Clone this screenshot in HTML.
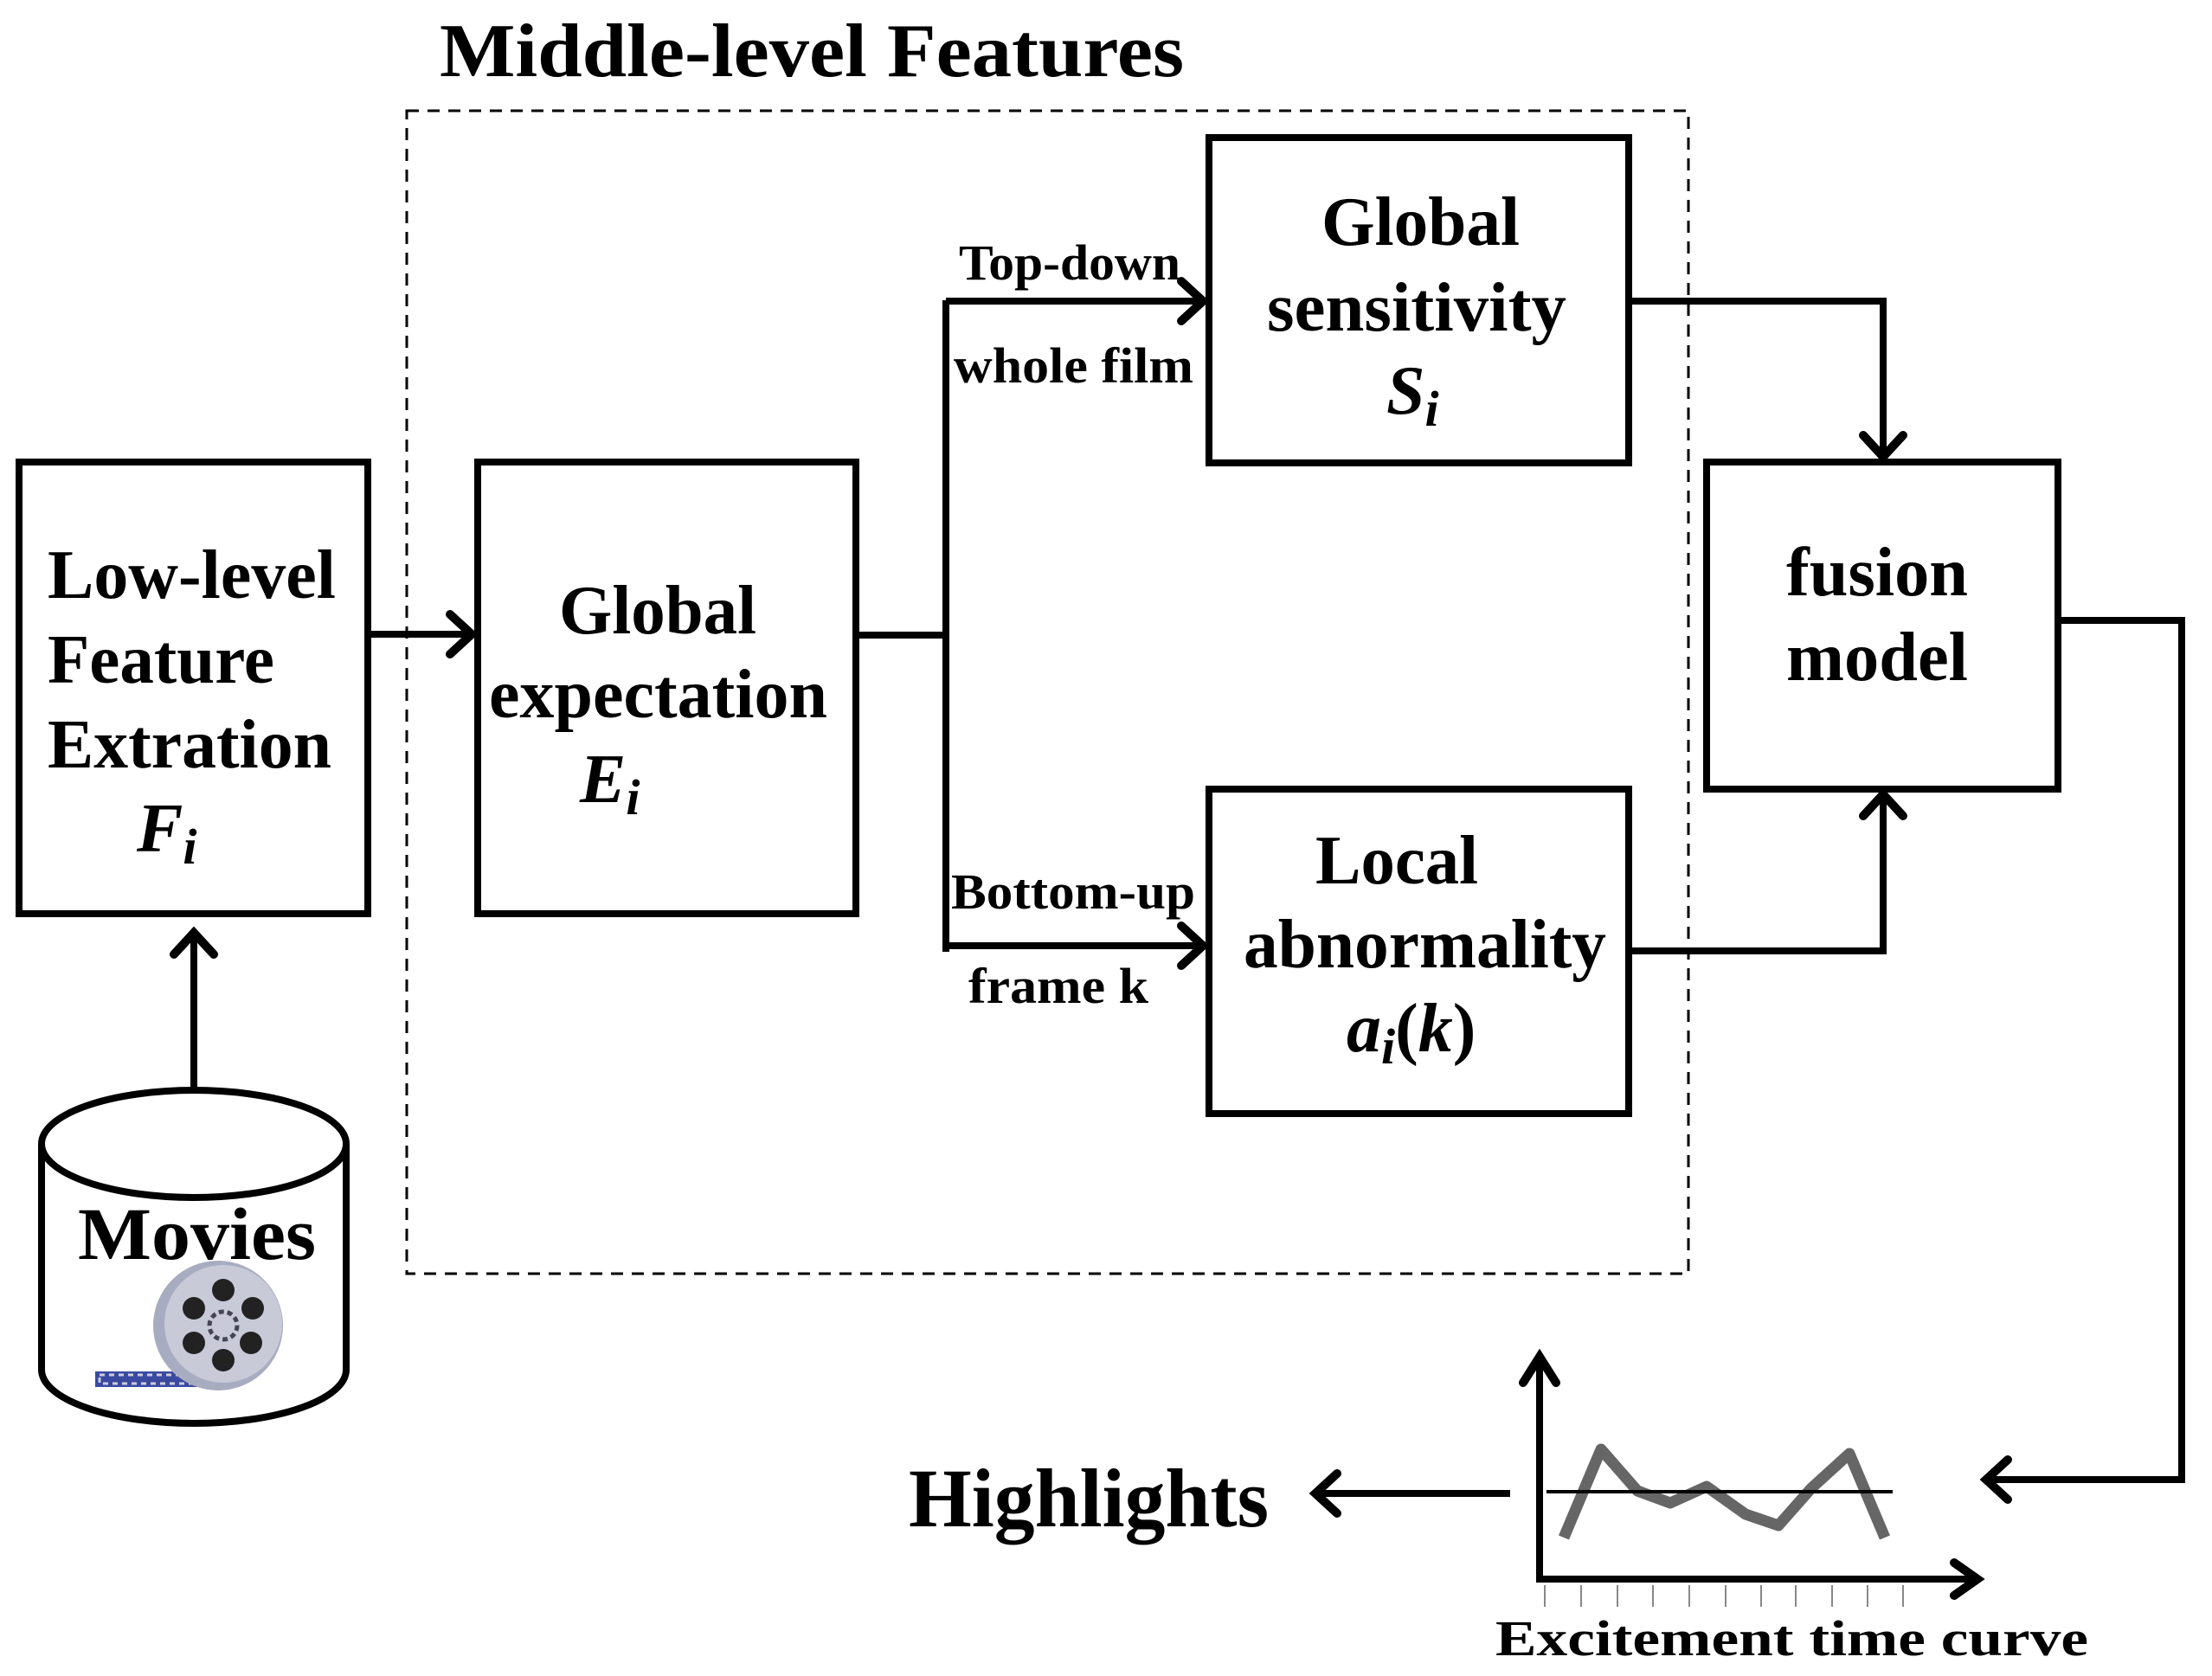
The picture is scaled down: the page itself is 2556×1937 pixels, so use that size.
<!DOCTYPE html>
<html><head><meta charset="utf-8"><style>
html,body{margin:0;padding:0;background:#fff;}
svg{display:block;}
text{font-family:"Liberation Serif",serif;font-weight:bold;fill:#000;}
.it{font-style:italic;}
</style></head><body>
<svg width="2556" height="1937" viewBox="0 0 2556 1937" xmlns="http://www.w3.org/2000/svg">
<g fill="none" stroke="#000" stroke-width="8" stroke-linejoin="miter">
<rect x="470" y="128" width="1481" height="1344" stroke-width="3" stroke-dasharray="14 10"/>
<rect x="22" y="534" width="403" height="522"/>
<rect x="552" y="534" width="437" height="522"/>
<rect x="1397" y="159" width="485" height="376"/>
<rect x="1397" y="912" width="485" height="375"/>
<rect x="1972" y="534" width="406" height="378"/>
<line x1="425" y1="733" x2="545" y2="733"/>
<polyline points="989,734 1093,734"/>
<line x1="1093" y1="347" x2="1093" y2="1100"/>
<line x1="1093" y1="348" x2="1390" y2="348"/>
<line x1="1093" y1="1093" x2="1390" y2="1093"/>
<polyline points="1882,348 2176,348 2176,528"/>
<polyline points="1882,1099 2176,1099 2176,918"/>
<polyline points="2378,717 2521,717 2521,1710 2295,1710"/>
<line x1="224" y1="1260" x2="224" y2="1078"/>
<line x1="1745" y1="1726" x2="1520" y2="1726"/>
<polyline points="1779,1568 1779,1825 2285,1825"/>
<path d="M48,1322 L48,1583 A176,62 0 0 0 400,1583 L400,1322" fill="#fff"/>
<ellipse cx="224" cy="1322" rx="176" ry="62" fill="#fff"/>
</g>
<g fill="none" stroke="#000" stroke-width="10" stroke-linecap="round" stroke-linejoin="miter">
<polyline points="520,710 545,733 520,756"/>
<polyline points="1365,325 1390,348 1365,371"/>
<polyline points="1365,1070 1390,1093 1365,1116"/>
<polyline points="2153,503 2176,528 2199,503"/>
<polyline points="2153,943 2176,918 2199,943"/>
<polyline points="2320,1687 2295,1710 2320,1733"/>
<polyline points="201,1103 224,1078 247,1103"/>
<polyline points="1545,1703 1520,1726 1545,1749"/>
<polyline points="1760,1598 1779,1568 1798,1598"/>
<polyline points="2258,1806 2285,1825 2258,1844"/>
</g>
<g stroke="#888" stroke-width="2">
<line x1="1785" y1="1832" x2="1785" y2="1857"/><line x1="1827" y1="1832" x2="1827" y2="1857"/><line x1="1869" y1="1832" x2="1869" y2="1857"/><line x1="1910" y1="1832" x2="1910" y2="1857"/><line x1="1952" y1="1832" x2="1952" y2="1857"/><line x1="1994" y1="1832" x2="1994" y2="1857"/><line x1="2035" y1="1832" x2="2035" y2="1857"/><line x1="2075" y1="1832" x2="2075" y2="1857"/><line x1="2117" y1="1832" x2="2117" y2="1857"/><line x1="2158" y1="1832" x2="2158" y2="1857"/><line x1="2199" y1="1832" x2="2199" y2="1857"/>
</g>
<polyline points="1807,1777 1850,1675 1892,1723 1930,1737 1972,1718 2017,1750 2055,1763 2093,1720 2137,1680 2178,1777" fill="none" stroke="#666" stroke-width="13" stroke-linejoin="round"/>
<line x1="1787" y1="1724" x2="2187" y2="1724" stroke="#000" stroke-width="4"/>
<rect x="110" y="1585" width="120" height="18" fill="#3a4aa0"/>
<rect x="115" y="1589" width="110" height="10" fill="none" stroke="#ccd" stroke-width="3" stroke-dasharray="6 5"/>
<circle cx="252" cy="1532" r="75" fill="#a8acc0"/>
<circle cx="258" cy="1530" r="68" fill="#c8cad8"/>
<g fill="#222">
<circle cx="258" cy="1491" r="13"/><circle cx="292" cy="1512" r="13"/><circle cx="290" cy="1552" r="13"/>
<circle cx="258" cy="1572" r="13"/><circle cx="224" cy="1552" r="13"/><circle cx="224" cy="1512" r="13"/>
</g>
<circle cx="258" cy="1532" r="16" fill="none" stroke="#445" stroke-width="5" stroke-dasharray="6 4"/>
<text x="508" y="88" font-size="88" textLength="860" lengthAdjust="spacingAndGlyphs">Middle-level Features</text>
<text x="55" y="691" font-size="80" textLength="333" lengthAdjust="spacingAndGlyphs">Low-level</text>
<text x="55" y="789" font-size="80" textLength="262" lengthAdjust="spacingAndGlyphs">Feature</text>
<text x="55" y="887" font-size="80" textLength="328" lengthAdjust="spacingAndGlyphs">Extration</text>
<text x="158" y="984" font-size="80" class="it">F<tspan font-size="58" dy="14">i</tspan></text>
<text x="646" y="732" font-size="80" textLength="228" lengthAdjust="spacingAndGlyphs">Global</text>
<text x="565" y="829" font-size="80" textLength="391" lengthAdjust="spacingAndGlyphs">expectation</text>
<text x="670" y="927" font-size="80" class="it">E<tspan font-size="58" dy="14">i</tspan></text>
<text x="1527" y="283" font-size="80" textLength="229" lengthAdjust="spacingAndGlyphs">Global</text>
<text x="1464" y="382" font-size="80" textLength="346" lengthAdjust="spacingAndGlyphs">sensitivity</text>
<text x="1602" y="478" font-size="80" class="it">S<tspan font-size="58" dy="14">i</tspan></text>
<text x="1520" y="1021" font-size="80" textLength="188" lengthAdjust="spacingAndGlyphs">Local</text>
<text x="1437" y="1118" font-size="80" textLength="419" lengthAdjust="spacingAndGlyphs">abnormality</text>
<text x="1556" y="1215" font-size="80"><tspan class="it">a</tspan><tspan class="it" font-size="58" dy="14">i</tspan><tspan dy="-14">(</tspan><tspan class="it">k</tspan>)</text>
<text x="2064" y="688" font-size="80" textLength="210" lengthAdjust="spacingAndGlyphs">fusion</text>
<text x="2064" y="786" font-size="80" textLength="210" lengthAdjust="spacingAndGlyphs">model</text>
<text x="1108" y="323" font-size="58" textLength="256" lengthAdjust="spacingAndGlyphs">Top-down</text>
<text x="1102" y="442" font-size="58" textLength="277" lengthAdjust="spacingAndGlyphs">whole film</text>
<text x="1099" y="1050" font-size="58" textLength="282" lengthAdjust="spacingAndGlyphs">Bottom-up</text>
<text x="1119" y="1159" font-size="58" textLength="208" lengthAdjust="spacingAndGlyphs">frame k</text>
<text x="1050" y="1764" font-size="96" textLength="416" lengthAdjust="spacingAndGlyphs">Highlights</text>
<text x="1728" y="1913" font-size="58" textLength="685" lengthAdjust="spacingAndGlyphs">Excitement time curve</text>
<text x="90" y="1455" font-size="86" textLength="275" lengthAdjust="spacingAndGlyphs">Movies</text>
</svg>
</body></html>
